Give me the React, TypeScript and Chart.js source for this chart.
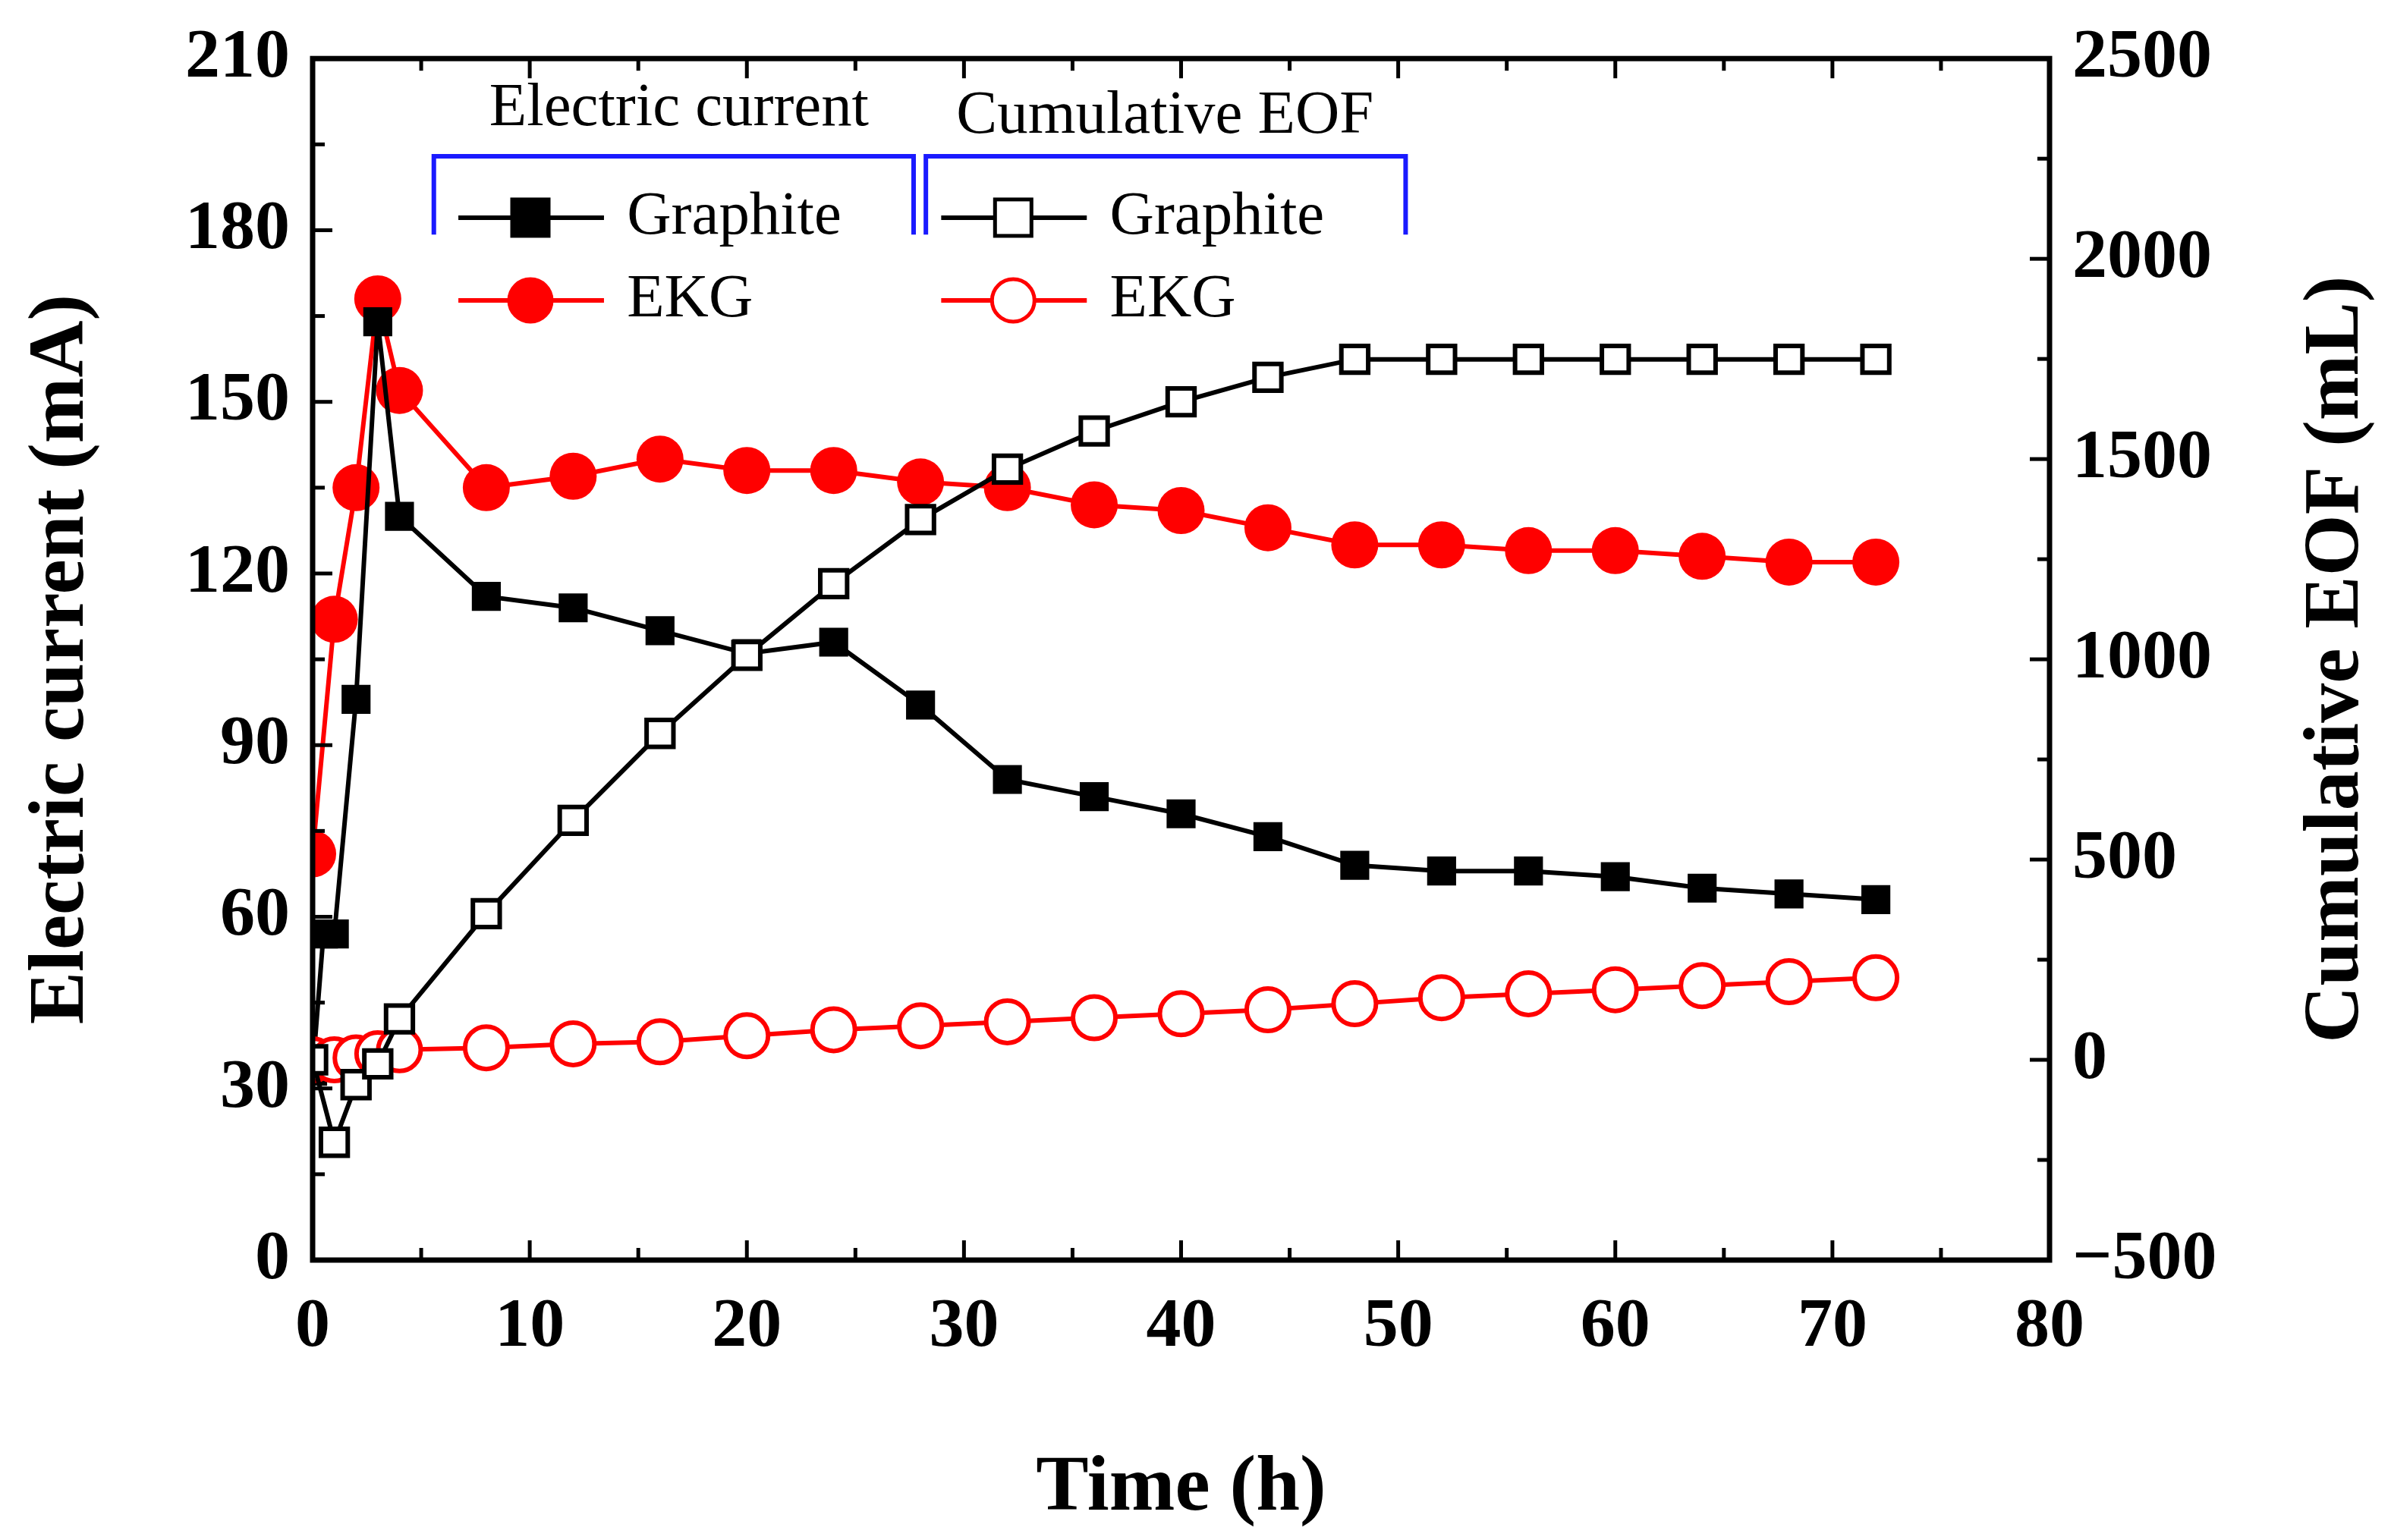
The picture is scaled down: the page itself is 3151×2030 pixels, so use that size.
import React, { useEffect, useRef } from "react";
import { Chart, registerables } from "chart.js";
Chart.register(...registerables);

const timeCur = [0, 0.5, 1, 2, 3, 4, 8, 12, 16, 20, 24, 28, 32, 36, 40, 44, 48, 52, 56, 60, 64, 68, 72];
const graphiteCurrent = [33, 57, 57, 98, 164, 130, 116, 114, 110, 106, 108, 97, 84, 81, 78, 74, 69, 68, 68, 67, 65, 64, 63];
const timeEkg = [0, 1, 2, 3, 4, 8, 12, 16, 20, 24, 28, 32, 36, 40, 44, 48, 52, 56, 60, 64, 68, 72];
const ekgCurrent = [71, 112, 135, 168, 152, 135, 137, 140, 138, 138, 136, 135, 132, 131, 128, 125, 125, 124, 124, 123, 122, 122];
const timeEof = [0, 1, 2, 3, 4, 8, 12, 16, 20, 24, 28, 32, 36, 40, 44, 48, 52, 56, 60, 64, 68, 72];
const graphiteEOF = [0, -206, -62, -10, 102, 365, 598, 815, 1010, 1189, 1349, 1475, 1570, 1643, 1704, 1749, 1749, 1749, 1749, 1749, 1749, 1749];
const ekgEOF = [0, 0, 5, 15, 25, 30, 40, 45, 60, 75, 85, 95, 105, 115, 125, 140, 155, 165, 175, 185, 195, 205];

const FONT = "'Liberation Serif', 'Times New Roman', serif";
const pts = (xs: number[], ys: number[]) => xs.map((x, i) => ({ x, y: ys[i] }));

const S = 2.02;
const framePlugin = {
  id: "frame",
  afterDraw(chart: any) {
    const ctx = chart.ctx;
    const { left, right, top, bottom } = chart.chartArea;
    const sx = chart.scales.x, yl = chart.scales.y, yr = chart.scales.y2;
    ctx.save();
    ctx.strokeStyle = "#000";
    ctx.lineWidth = 7;
    ctx.strokeRect(left, top, right - left, bottom - top);
    ctx.lineWidth = 5;
    const tick = (x1: number, y1: number, x2: number, y2: number) => {
      ctx.beginPath(); ctx.moveTo(x1, y1); ctx.lineTo(x2, y2); ctx.stroke();
    };
    for (let v = 0; v <= 80; v += 5) {
      const p = sx.getPixelForValue(v);
      const L = v % 10 === 0 ? 26 : 16;
      tick(p, bottom, p, bottom - L);
      tick(p, top, p, top + L);
    }
    for (let v = 0; v <= 210; v += 15) {
      const p = yl.getPixelForValue(v);
      const L = v % 30 === 0 ? 26 : 16;
      tick(left, p, left + L, p);
    }
    for (let v = -500; v <= 2500; v += 250) {
      const p = yr.getPixelForValue(v);
      const L = v % 500 === 0 ? 26 : 16;
      tick(right, p, right - L, p);
    }
    // right title
    ctx.save();
    ctx.translate(3080, (top + bottom) / 2);
    ctx.rotate(-Math.PI / 2);
    ctx.font = `bold 104px ${FONT}`;
    ctx.fillStyle = "#000";
    ctx.textAlign = "center";
    ctx.textBaseline = "middle";
    ctx.fillText("Cumulative EOF (mL)", 0, 0);
    ctx.restore();
    // legend
    const X = (v: number) => v * S - 8;
    const Y = (v: number) => v * S - 8;
    ctx.font = `${40 * S}px ${FONT}`;
    ctx.fillStyle = "#000";
    ctx.textBaseline = "middle";
    ctx.textAlign = "center";
    ctx.fillText("Electric current", X(447), Y(75));
    ctx.fillText("Cumulative EOF", X(764), Y(80));
    ctx.strokeStyle = "#1a1aff";
    ctx.lineWidth = 6;
    const br = (a: number, b: number) => {
      ctx.beginPath();
      ctx.moveTo(X(a), Y(157)); ctx.lineTo(X(a), Y(106)); ctx.lineTo(X(b), Y(106)); ctx.lineTo(X(b), Y(157));
      ctx.stroke();
    };
    br(287, 600); br(608, 921);
    ctx.textAlign = "left";
    const entry = (x0: number, y: number, color: string, shape: string, filled: boolean, label: string) => {
      ctx.strokeStyle = color; ctx.lineWidth = 6;
      tick(X(x0), Y(y), X(x0 + 95), Y(y));
      const cx = X(x0 + 47), cy = Y(y);
      ctx.fillStyle = filled ? color : "#fff";
      ctx.lineWidth = 5;
      if (shape === "rect") {
        ctx.fillRect(cx - 24, cy - 24, 48, 48);
        ctx.strokeRect(cx - 24, cy - 24, 48, 48);
      } else {
        ctx.beginPath(); ctx.arc(cx, cy, 28, 0, Math.PI * 2); ctx.fill(); ctx.stroke();
      }
      ctx.fillStyle = "#000";
      ctx.fillText(label, X(x0 + 110), Y(y));
    };
    entry(303, 146, "#000", "rect", true, "Graphite");
    entry(303, 200, "#ff0000", "circle", true, "EKG");
    entry(618, 146, "#000", "rect", false, "Graphite");
    entry(618, 200, "#ff0000", "circle", false, "EKG");
    ctx.restore();
  },
};

export default function App() {
  const ref = useRef<HTMLCanvasElement>(null);
  useEffect(() => {
    const tickFont = { family: FONT, size: 92, weight: "bold" as const };
    const titleFont = { family: FONT, size: 104, weight: "bold" as const };
    const base = { borderWidth: 6, showLine: true, tension: 0 };
    const chart = new Chart(ref.current!, {
      type: "scatter",
      data: {
        datasets: [
          { ...base, data: pts(timeEof, graphiteEOF), yAxisID: "y2", borderColor: "#000", pointBackgroundColor: "#fff", pointBorderColor: "#000", pointStyle: "rect", pointRadius: 25, pointBorderWidth: 6 },
          { ...base, data: pts(timeEof, ekgEOF), yAxisID: "y2", borderColor: "#ff0000", pointBackgroundColor: "#fff", pointBorderColor: "#ff0000", pointStyle: "circle", pointRadius: 28, pointBorderWidth: 6 },
          { ...base, data: pts(timeCur, graphiteCurrent), yAxisID: "y", borderColor: "#000", backgroundColor: "#000", pointBackgroundColor: "#000", pointBorderColor: "#000", pointStyle: "rect", pointRadius: 27, pointBorderWidth: 0 },
          { ...base, data: pts(timeEkg, ekgCurrent), yAxisID: "y", borderColor: "#ff0000", pointBackgroundColor: "#ff0000", pointBorderColor: "#ff0000", pointStyle: "circle", pointRadius: 31, pointBorderWidth: 0 },
        ],
      },
      options: {
        animation: false,
        responsive: false,
        layout: { padding: { top: 75, bottom: 0, left: 0, right: 0 } },
        plugins: { legend: { display: false }, tooltip: { enabled: false } },
        scales: {
          x: {
            type: "linear", min: 0, max: 80,
            grid: { display: false }, border: { display: false },
            ticks: { stepSize: 10, font: tickFont, color: "#000", padding: 26 },
            title: { display: true, text: "Time (h)", font: titleFont, color: "#000", padding: { top: 18 } },
            afterFit: (s: any) => { s.height = 369; },
          },
          y: {
            position: "left", min: 0, max: 210,
            grid: { display: false }, border: { display: false },
            ticks: { stepSize: 30, font: tickFont, color: "#000", padding: 22 },
            title: { display: true, text: "Electric current (mA)", font: titleFont, color: "#000", padding: { top: 20, bottom: 10 } },
            afterFit: (s: any) => { s.width = 412; },
          },
          y2: {
            position: "right", min: -500, max: 2500,
            grid: { display: false }, border: { display: false },
            ticks: { stepSize: 500, font: tickFont, color: "#000", padding: 22, callback: (v: any) => String(v).replace("-", "\u2212") },
            afterFit: (s: any) => { s.width = 450; },
          },
        },
      },
      plugins: [framePlugin],
    });
    return () => chart.destroy();
  }, []);
  return (
    <div style={{ position: "fixed", left: 0, top: 0, width: 3151, height: 2030, background: "#fff" }}>
      <canvas ref={ref} width={3151} height={2030} style={{ width: 3151, height: 2030 }} />
    </div>
  );
}
